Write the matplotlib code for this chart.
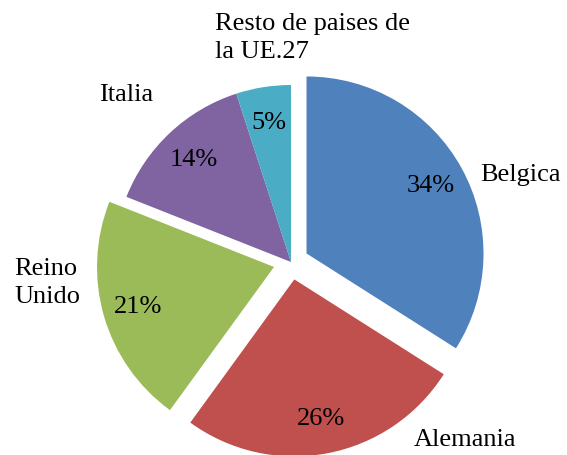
import matplotlib.pyplot as plt

# ---------------------------
# Data
# ---------------------------
paises = ["Belgica", "Alemania", "Reino\nUnido", "Italia", "Resto de paises de\nla UE.27"]
porcentajes = [34, 26, 21, 14, 5]
separacion = [0.1, 0.1, 0.1, 0, 0]
colores = ["#4F81BD", "#C0504D", "#9BBB59", "#8064A2", "#4BACC6"]

plt.rcParams["font.family"] = ["Liberation Serif", "DejaVu Serif"]

fig = plt.figure(figsize=(5.67, 4.56), dpi=100)
ax = fig.add_axes([0, 0, 1, 1])

wedges, etiquetas, pcts = ax.pie(
    porcentajes,
    colors=colores,
    explode=separacion,
    startangle=90,
    counterclock=False,
    autopct="%1.0f%%",
    pctdistance=0.8,
    labels=paises,
    labeldistance=1.3,
    textprops={"fontsize": 19},
)

# ---------------------------
# Label placement (Excel style)
# ---------------------------
posiciones = [
    (1.294, 0.50, "center", "center"),
    (0.983, -1.0, "center", "center"),
    (-1.565, -0.113, "left", "center"),
    (-0.932, 0.949, "center", "center"),
    (-0.429, 1.271, "left", "center"),
]
for txt, (x, y, ha, va) in zip(etiquetas, posiciones):
    txt.set_position((x, y))
    txt.set_ha(ha)
    txt.set_va(va)
    txt.set_linespacing(1.4)

ax.set_xlim(-291 / 177, (567 - 291) / 177)
ax.set_ylim(-(456 - 263) / 177, 263 / 177)
ax.set_aspect("equal")
ax.axis("off")

fig.savefig("out.png", dpi=100)
